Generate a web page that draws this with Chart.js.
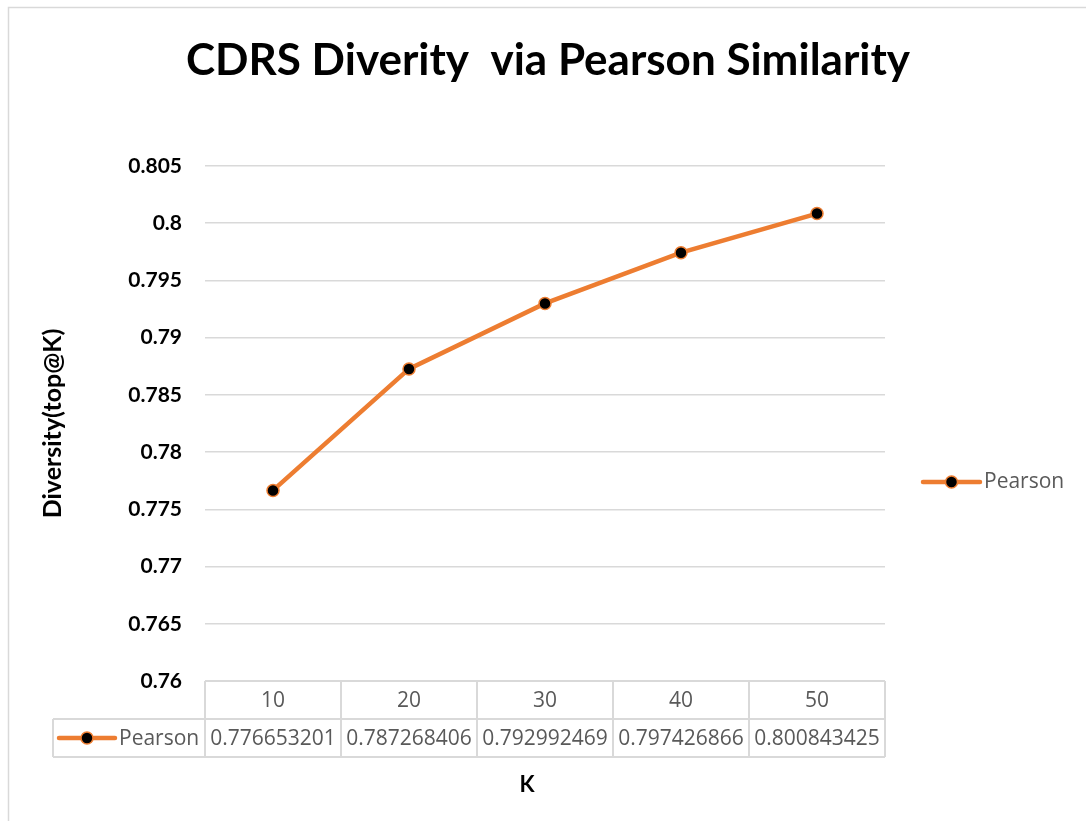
<!DOCTYPE html>
<html>
<head>
<meta charset="utf-8">
<style>
  html, body { margin: 0; padding: 0; background: #ffffff; }
  #wrap { width: 1086px; height: 821px; position: relative; }
  canvas { display: block; }
</style>
<script src="https://cdn.jsdelivr.net/npm/chart.js@4.4.1/dist/chart.umd.min.js"></script>
</head>
<body>
<div id="wrap"><canvas id="chart" width="1086" height="821"></canvas></div>
<script>
// ---- data ----
const chartTitle = 'CDRS Diverity  via Pearson Similarity';
const kValues = ['10', '20', '30', '40', '50'];
const seriesName = 'Pearson';
const pearsonDiversity = [0.776653201, 0.787268406, 0.792992469, 0.797426866, 0.800843425];
const yTickLabels = ['0.76', '0.765', '0.77', '0.775', '0.78', '0.785', '0.79', '0.795', '0.8', '0.805'];
const yAxisTitle = 'Diversity(top@K)';
const xAxisTitle = 'K';

// ---- styling ----
const ORANGE = '#ED7D31';
const GRID = '#d9d9d9';
const TEXT_GREY = '#595959';
const BOLD_FAMILY = 'Lato, "Open Sans", sans-serif';
const PLAIN_FAMILY = '"Open Sans", sans-serif';

// Line-with-marker swatch, as used in the legend and the data table.
function drawSwatch(ctx, x0, x1, y) {
  ctx.save();
  ctx.strokeStyle = ORANGE;
  ctx.lineWidth = 4.5;
  ctx.lineCap = 'round';
  ctx.beginPath();
  ctx.moveTo(x0, y);
  ctx.lineTo(x1, y);
  ctx.stroke();
  ctx.beginPath();
  ctx.arc((x0 + x1) / 2, y, 6, 0, Math.PI * 2);
  ctx.fillStyle = '#000000';
  ctx.fill();
  ctx.lineWidth = 1.5;
  ctx.strokeStyle = ORANGE;
  ctx.stroke();
  ctx.restore();
}

// Title, outer frame, legend, data table and x-axis title.
const decorations = {
  id: 'decorations',
  afterDraw(chart) {
    const ctx = chart.ctx;
    const area = chart.chartArea;
    const xs = chart.scales.x;
    ctx.save();

    // outer frame
    ctx.strokeStyle = GRID;
    ctx.lineWidth = 1.5;
    ctx.strokeRect(8.5, 7.5, 1100, 830);

    // chart title
    ctx.fillStyle = '#000000';
    ctx.font = 'bold 44px ' + BOLD_FAMILY;
    ctx.textAlign = 'center';
    ctx.textBaseline = 'alphabetic';
    ctx.fillText(chartTitle, 548, 75);

    // legend on the right
    drawSwatch(ctx, 923, 980, 482);
    ctx.fillStyle = TEXT_GREY;
    ctx.font = '21px ' + PLAIN_FAMILY;
    ctx.textAlign = 'left';
    ctx.textBaseline = 'middle';
    ctx.fillText(seriesName, 984, 482);

    // data table under the plot
    const n = kValues.length;
    const colW = area.width / n;
    const top = area.bottom;
    const mid = top + 38;
    const bottom = mid + 38;
    const tableLeft = 53;

    ctx.strokeStyle = GRID;
    ctx.lineWidth = 2;
    ctx.beginPath();
    ctx.moveTo(area.left, top); ctx.lineTo(area.right, top);
    ctx.moveTo(tableLeft, mid); ctx.lineTo(area.right, mid);
    ctx.moveTo(tableLeft, bottom); ctx.lineTo(area.right, bottom);
    ctx.moveTo(tableLeft, mid); ctx.lineTo(tableLeft, bottom);
    for (let i = 0; i < n; i++) {
      const edge = xs.getPixelForValue(i) - colW / 2;
      ctx.moveTo(edge, top); ctx.lineTo(edge, bottom);
    }
    ctx.moveTo(area.right, top); ctx.lineTo(area.right, bottom);
    ctx.stroke();

    ctx.fillStyle = TEXT_GREY;
    ctx.font = '21px ' + PLAIN_FAMILY;
    ctx.textAlign = 'center';
    ctx.textBaseline = 'middle';
    for (let i = 0; i < n; i++) {
      const cx = xs.getPixelForValue(i);
      ctx.fillText(kValues[i], cx, (top + mid) / 2 + 1);
      ctx.fillText(String(pearsonDiversity[i]), cx, (mid + bottom) / 2 + 1);
    }

    drawSwatch(ctx, 59, 115, (mid + bottom) / 2);
    ctx.textAlign = 'left';
    ctx.fillText(seriesName, 119, (mid + bottom) / 2 + 1);

    // x-axis title
    ctx.fillStyle = '#000000';
    ctx.font = 'bold 22px ' + BOLD_FAMILY;
    ctx.textAlign = 'center';
    ctx.fillText(xAxisTitle, 527, 785);

    ctx.restore();
  }
};

new Chart(document.getElementById('chart'), {
  type: 'line',
  data: {
    labels: kValues,
    datasets: [{
      label: seriesName,
      data: pearsonDiversity,
      borderColor: ORANGE,
      borderWidth: 4.5,
      tension: 0,
      pointRadius: 6,
      pointBackgroundColor: '#000000',
      pointBorderColor: ORANGE,
      pointBorderWidth: 1.5,
      clip: false
    }]
  },
  options: {
    responsive: false,
    animation: false,
    devicePixelRatio: 1,
    layout: { padding: { left: 0, right: 201, top: 166, bottom: 0 } },
    plugins: {
      legend: { display: false },
      title: { display: false },
      tooltip: { enabled: false }
    },
    scales: {
      x: {
        type: 'category',
        offset: true,
        grid: { display: false },
        border: { display: false },
        ticks: { display: false },
        afterFit(scale) { scale.height = 140; }
      },
      y: {
        min: 0.76,
        max: 0.805,
        ticks: {
          stepSize: 0.005,
          padding: 23,
          color: '#000000',
          font: { family: BOLD_FAMILY, size: 21, weight: 'bold' },
          callback: (value, index) => yTickLabels[index]
        },
        grid: { color: GRID, lineWidth: 1.5, drawTicks: false },
        border: { display: false },
        title: {
          display: true,
          text: yAxisTitle,
          color: '#000000',
          font: { family: BOLD_FAMILY, size: 25, weight: 'bold' },
          padding: { top: 38, bottom: 0 }
        },
        afterFit(scale) { scale.width = 205; }
      }
    }
  },
  plugins: [decorations]
});
</script>
</body>
</html>
